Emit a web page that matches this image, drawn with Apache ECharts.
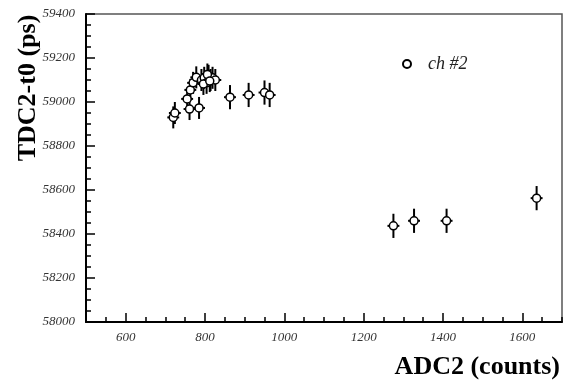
<!DOCTYPE html>
<html>
<head>
<meta charset="utf-8">
<script src="https://cdn.jsdelivr.net/npm/echarts@6/dist/echarts.min.js"></script>
<style>
html,body{margin:0;padding:0;background:#fff;}
#chart{width:564px;height:382px;}
</style>
</head>
<body>
<div id="chart"></div>
<script>
// ADC2 (counts)
var adc = [720, 724, 755, 763, 770, 778, 761, 785, 791, 798, 804, 809, 814, 819, 826, 796, 806, 812, 863, 910, 950, 963, 1275, 1327, 1409, 1636];
// TDC2-t0 (ps)
var tdc = [58930, 58950, 59014, 59055, 59087, 59112, 58968, 58973, 59100, 59110, 59087, 59119, 59100, 59110, 59100, 59082, 59125, 59095, 59022, 59032, 59043, 59032, 58437, 58460, 58460, 58563];
// errors
var tdcErr = [50, 50, 50, 50, 50, 50, 50, 50, 50, 50, 50, 50, 50, 50, 50, 50, 50, 50, 55, 55, 55, 55, 55, 55, 55, 55];
var adcErr = [15, 15, 15, 15, 15, 15, 15, 15, 15, 15, 15, 15, 15, 15, 15, 15, 15, 15, 15, 15, 15, 15, 15, 15, 15, 15];
var xTicks = [600, 800, 1000, 1200, 1400, 1600];
var yTicks = [58000, 58200, 58400, 58600, 58800, 59000, 59200, 59400];
var seriesName = 'ch #2';

var points = adc.map(function (x, i) { return [x, tdc[i], adcErr[i], tdcErr[i]]; });

var chart = echarts.init(document.getElementById('chart'));
var tickFont = {fontStyle: 'italic', fontSize: 13, fontFamily: 'Liberation Serif', color: '#333',
  formatter: function (v) { return String(v); }};
chart.setOption({
  animation: false,
  backgroundColor: '#fff',
  grid: {left: 86, right: 2, top: 14, bottom: 60, show: true, borderColor: '#555', borderWidth: 1.5, containLabel: false},
  legend: {
    data: [seriesName], left: 397, top: 50, itemWidth: 8, itemHeight: 8,
    textStyle: {fontStyle: 'italic', fontSize: 18, fontFamily: 'Liberation Serif', color: '#222', padding: [0, 0, 0, 12]}
  },
  xAxis: [{
    type: 'value', min: 500, max: 1700, interval: 50,
    axisLine: {lineStyle: {color: '#000', width: 2}},
    axisTick: {inside: true, length: 9, customValues: xTicks, lineStyle: {color: '#000', width: 1.5}},
    splitLine: {show: false},
    axisLabel: Object.assign({margin: 9, customValues: xTicks}, tickFont)
  }, {
    type: 'value', min: 500, max: 1700, interval: 50, position: 'bottom',
    axisLine: {show: false},
    axisTick: {inside: true, length: 5, lineStyle: {color: '#000', width: 1.5}},
    splitLine: {show: false},
    axisLabel: {show: false}
  }],
  yAxis: {
    type: 'value', min: 58000, max: 59400, interval: 200,
    axisLine: {lineStyle: {color: '#000', width: 2}},
    axisTick: {inside: true, length: 9, lineStyle: {color: '#000', width: 1.5}},
    minorTick: {show: true, splitNumber: 4, length: 5, lineStyle: {color: '#000', width: 1.5}},
    splitLine: {show: false},
    axisLabel: Object.assign({margin: 11}, tickFont)
  },
  graphic: [
    {type: 'text', position: [28, 88], rotation: Math.PI / 2,
     style: {text: 'TDC2-t0 (ps)', font: 'bold 26px "Liberation Serif"', fill: '#000', textAlign: 'center', textVerticalAlign: 'middle'}},
    {type: 'text', position: [560, 367],
     style: {text: 'ADC2 (counts)', font: 'bold 26px "Liberation Serif"', fill: '#000', textAlign: 'right', textVerticalAlign: 'middle'}}
  ],
  series: [
    {
      type: 'custom', name: 'err', silent: true, z: 2,
      data: points,
      renderItem: function (params, api) {
        var x = api.value(0), y = api.value(1), ex = api.value(2), ey = api.value(3);
        var top = api.coord([x, y + ey]);
        var bot = api.coord([x, y - ey]);
        var lft = api.coord([x - ex, y]);
        var rgt = api.coord([x + ex, y]);
        var st = {stroke: '#000', lineWidth: 2};
        return {type: 'group', children: [
          {type: 'line', shape: {x1: top[0], y1: top[1], x2: bot[0], y2: bot[1]}, style: st},
          {type: 'line', shape: {x1: lft[0], y1: lft[1], x2: rgt[0], y2: rgt[1]}, style: st}
        ]};
      }
    },
    {
      type: 'scatter', name: seriesName, z: 3,
      data: points.map(function (p) { return [p[0], p[1]]; }),
      symbol: 'circle', symbolSize: 8,
      itemStyle: {color: '#fff', borderColor: '#000', borderWidth: 1.5, opacity: 1}
    }
  ]
});
</script>
</body>
</html>
